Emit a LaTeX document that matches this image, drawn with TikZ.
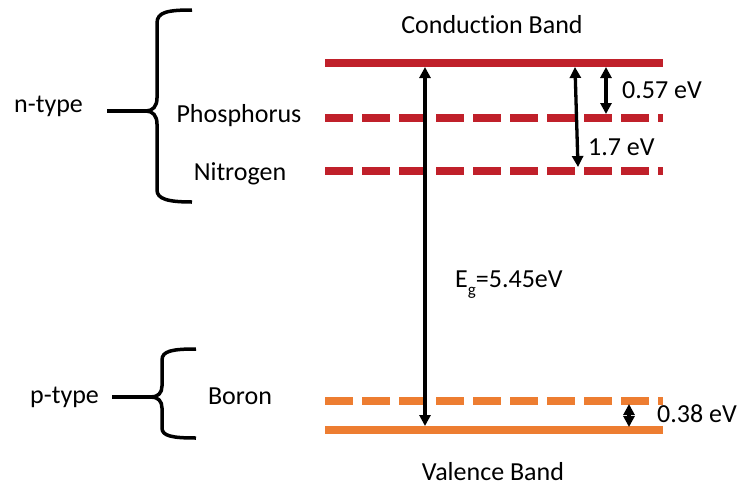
\documentclass[tikz,border=0pt]{standalone}
\usepackage{fontspec}
\setmainfont[Ligatures=NoCommon]{Carlito}
\usetikzlibrary{arrows.meta}
\definecolor{bandred}{RGB}{192,32,42}
\definecolor{bandorange}{RGB}{237,125,49}
\begin{document}
\begin{tikzpicture}[x=1pt,y=-1pt,
  band/.style={line width=8pt},
  dashband/.style={line width=8pt, dash pattern=on 27.7pt off 9.3pt},
  gaparrow/.style={line width=3.3pt, {Triangle[length=11pt,width=11pt]}-{Triangle[length=11pt,width=11pt]}},
  bracepath/.style={line width=3.5pt},
  lbl/.style={font=\fontsize{26}{30}\selectfont, inner sep=0pt}]
\useasboundingbox (0,0) rectangle (740,488);

% band end points
\coordinate (cbL) at (325,63);  \coordinate (cbR) at (663,63);
\coordinate (pL)  at (325,118); \coordinate (pR)  at (663,118);
\coordinate (nL)  at (325,171); \coordinate (nR)  at (663,171);
\coordinate (bL)  at (325,401); \coordinate (bR)  at (663,401);
\coordinate (vbL) at (325,430); \coordinate (vbR) at (663,430);

% bands
\draw[band, bandred] (cbL) -- (cbR);
\draw[dashband, bandred] (pL) -- (pR);
\draw[dashband, bandred] (nL) -- (nR);
\draw[dashband, bandorange] (bL) -- (bR);
\draw[band, bandorange] (vbL) -- (vbR);

% arrow ends
\coordinate (egT) at (425,67);  \coordinate (egB) at (425,426);
\coordinate (nT)  at (575,67);  \coordinate (nB)  at (578,167);
\coordinate (pT)  at (606,67);  \coordinate (pB)  at (606,114);
\coordinate (bT)  at (629,404); \coordinate (bB)  at (629,427);

\draw[gaparrow] (egT) -- (egB);
\draw[gaparrow] (nT) -- (nB);
\draw[gaparrow] (pT) -- (pB);
\draw[gaparrow] (bT) -- (bB);

% labels
\node[lbl, anchor=base] (cond) at (492,33) {Conduction Band};
\node[lbl, anchor=base] (val) at (493,480) {Valence Band};
\node[lbl, anchor=base west] (l057) at (622,98) {0.57 eV};
\node[lbl, anchor=base west] (l17) at (588,155) {1.7 eV};
\node[lbl, anchor=base west] (l038) at (657,422) {0.38 eV};
\node[lbl, anchor=base west] (eg) at (455,287) {E\raisebox{-0.32em}{\fontsize{17}{17}\selectfont g}=5.45eV};
\node[lbl, anchor=base] (phos) at (239,122) {Phosphorus};
\node[lbl, anchor=base] (nitro) at (240,180) {Nitrogen};
\node[lbl, anchor=base] (boron) at (240,404) {Boron};
\node[lbl, anchor=base west] (ntype) at (14,112) {n-type};
\node[lbl, anchor=base west] (ptype) at (30,403) {p-type};

% braces
\draw[bracepath] (192,10) .. controls (168,10) and (157,12) .. (157,23) -- (157,98)
  .. controls (157,106) and (153,111) .. (146,111)
  .. controls (153,111) and (157,116) .. (157,124) -- (157,190)
  .. controls (157,199) and (168,202) .. (192,202);
\draw[bracepath] (107,111) -- (146,111);

\draw[bracepath] (196,349) .. controls (172,349) and (162,351) .. (162,360) -- (162,386)
  .. controls (162,393) and (158,397) .. (151,397)
  .. controls (158,397) and (162,401) .. (162,408) -- (162,428)
  .. controls (162,436) and (172,438) .. (196,438);
\draw[bracepath] (112,397) -- (151,397);
\end{tikzpicture}
\end{document}
